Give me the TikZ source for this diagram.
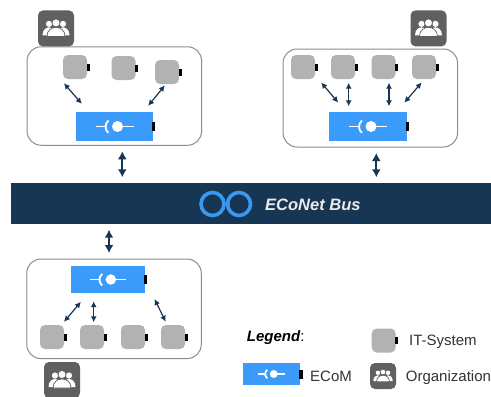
\documentclass[tikz,border=0pt]{standalone}
\usepackage{fontspec}
\setmainfont{Liberation Sans}
\usepackage{tikz}
\usetikzlibrary{arrows.meta}

\definecolor{busblue}{HTML}{173653}
\definecolor{ecomblue}{HTML}{3B9BFB}
\definecolor{logoblue}{HTML}{3A98F0}
\definecolor{itgray}{HTML}{B2B2B2}
\definecolor{orggray}{HTML}{606060}
\definecolor{boxgray}{HTML}{8C8C8C}
\definecolor{textgray}{HTML}{333333}

\tikzset{
	domainbox/.style={draw=boxgray,line width=1pt,fill=white,rounded corners=14pt,minimum width=174.5pt,inner sep=0pt},
	itsys/.style={fill=itgray,rounded corners=5pt,minimum size=24pt,inner sep=0pt},
	ecom/.style={fill=ecomblue,inner sep=0pt},
	org/.style={fill=orggray,rounded corners=5pt,minimum size=36pt,inner sep=0pt},
	itport/.style={fill=black,minimum width=3pt,minimum height=7pt,inner sep=0pt},
	ecomport/.style={fill=black,minimum width=3.5pt,minimum height=9pt,inner sep=0pt},
	link/.style 2 args={<->,>={Latex[length=6pt,width=6pt]},draw=busblue,line width=1.2pt,shorten <=#1,shorten >=#2},
	buslink/.style={<->,>={Latex[length=8pt,width=9pt]},draw=busblue,line width=2.2pt,shorten <=5.5pt,shorten >=5.5pt},
	legendtext/.style={anchor=base west,inner sep=0pt,text=textgray,font=\fontsize{15}{15}\selectfont},
	ecomicon/.pic={
		\draw [white,line width=1.8pt] (-19,0) -- (-9,0);
		\draw [white,line width=1.8pt] (3,0) -- (19,0);
		\draw [white,line width=1.8pt] (-6.1,-6) arc [start angle=230,end angle=130,radius=8];
		\fill [white] (3,0) circle [radius=5.5];
	},
	peopleicon/.pic={
		% back row
		\fill [white] (-7,-4.5) circle [radius=3.1];
		\fill [white] (7,-4.5) circle [radius=3.1];
		\fill [white] (-13.5,7) .. controls (-13.5,1) and (-9.5,-1) .. (-7,-1) .. controls (-4.5,-1) and (-1,1) .. (-1,7) -- cycle;
		\fill [white] (13.5,7) .. controls (13.5,1) and (9.5,-1) .. (7,-1) .. controls (4.5,-1) and (1,1) .. (1,7) -- cycle;
		% front one
		\draw [fill=white,draw=orggray,line width=.7pt] (0,-5.5) circle [radius=4];
		\draw [fill=white,draw=orggray,line width=.7pt] (-9,8) .. controls (-9,1.5) and (-4,-1) .. (0,-1) .. controls (4,-1) and (9,1.5) .. (9,8) -- cycle;
	}
}

\begin{document}
\begin{tikzpicture}[x=1pt,y=-1pt]
	\useasboundingbox (0,0) rectangle (491,397);

	% domains
	\node [domainbox,minimum height=98.5pt] (boxA) at (114.3,96) {};
	\node [domainbox,minimum height=98pt] (boxB) at (370.3,98) {};
	\node [domainbox,minimum height=99.5pt] (boxC) at (114,308.8) {};

	% bus
	\node [fill=busblue,minimum width=480pt,minimum height=41pt,inner sep=0pt] (bus) at (251,203.5) {};
	\node [anchor=west,inner sep=0pt,text=white!92!black,font=\fontsize{16.5}{16.5}\bfseries\itshape\selectfont] (bustext) at (265,205) {ECoNet Bus};
	\draw [logoblue,line width=3.6pt] (212.5,204) circle [radius=11.5];
	\draw [logoblue,line width=3.6pt] (239,204) circle [radius=11.5];
	\draw [logoblue,line width=1.5pt] (222,204) -- (230,204);

	% it systems
	\foreach \name/\x/\y in {itA1/75/67,itA2/123.5/68,itA3/167/72,
		itB1/303/67,itB2/343/67,itB3/383.5/67,itB4/424/67,
		itC1/52/337,itC2/92/337,itC3/133/337,itC4/173/337,itL/383.7/340.5} {
		\node [itsys] (\name) at (\x,\y) {};
		\node [itport] (\name port) at ([xshift=1pt]\name.east) {};
	}

	% ecoms
	\foreach \name/\x/\y/\w/\h/\s in {ecomA/114.5/126.5/77/29/1,ecomB/368/126.5/78/29/1,
		ecomC/108/279.5/74/27/.95,ecomL/271.6/374/57/22/.72} {
		\node [ecom,minimum width=\w pt,minimum height=\h pt] (\name) at (\x,\y) {};
		\node [ecomport] (\name port) at ([xshift=.5pt]\name.east) {};
		\pic [scale=\s] at (\name.center) {ecomicon};
	}

	% organizations
	\foreach \name/\x/\y in {orgA/56/28.4,orgB/428.5/28.4,orgC/62/380} {
		\node [org] (\name) at (\x,\y) {};
		\pic at (\name.center) {peopleicon};
	}
	\node [org,minimum size=26pt] (orgL) at (383,376) {};
	\pic [scale=.72] at (orgL.center) {peopleicon};

	% links to the bus
	\draw [buslink] ([xshift=8pt]boxA.south) -- ([xshift=8pt]boxA.south |- bus.north);
	\draw [buslink] ([xshift=6pt]boxB.south) -- ([xshift=6pt]boxB.south |- bus.north);
	\draw [buslink] ([xshift=-5pt]boxC.north) -- ([xshift=-5pt]boxC.north |- bus.south);

	% links inside the domains
	\draw [link={5.3pt}{10.5pt}] ([xshift=-2.4pt]itA1.south west) -- ([xshift=12.9pt]ecomA.north west);
	\draw [link={1.5pt}{7.7pt}] ([xshift=-1.2pt]itA3.south) -- ([xshift=-9.9pt]ecomA.north east);

	\draw [link={4.3pt}{12pt}] ([xshift=3.2pt]itB1.south east) -- ([xshift=17.2pt]ecomB.north west);
	\draw [link={3.5pt}{5.5pt}] ([xshift=5.7pt]itB2.south) -- ([xshift=5.7pt]itB2.south |- ecomB.north);
	\draw [link={3.5pt}{5.5pt}] ([xshift=5.5pt]itB3.south) -- ([xshift=5.5pt]itB3.south |- ecomB.north);
	\draw [link={4.3pt}{12pt}] ([xshift=.5pt]itB4.south) -- ([xshift=-10.7pt]ecomB.north east);

	\draw [link={3.9pt}{11.3pt}] ([xshift=9.5pt]itC1.north) -- ([xshift=17.4pt]ecomC.south west);
	\draw [link={2.5pt}{8pt}] ([xshift=1.7pt]itC2.north) -- ([xshift=1.7pt]itC2.north |- ecomC.south);
	\draw [link={3.4pt}{6.4pt}] ([xshift=-5.8pt]itC4.north) -- ([xshift=6.5pt]ecomC.south east);

	% legend
	\node [legendtext,text=black] (legendtitle) at (246.7,341) {\textbf{\textit{Legend}}:};
	\node [legendtext] (ittext) at (409,345) {IT-System};
	\node [legendtext] (ecomtext) at (310,381) {ECoM};
	\node [legendtext] (orgtext) at (405.7,381) {Organization};
\end{tikzpicture}
\end{document}
